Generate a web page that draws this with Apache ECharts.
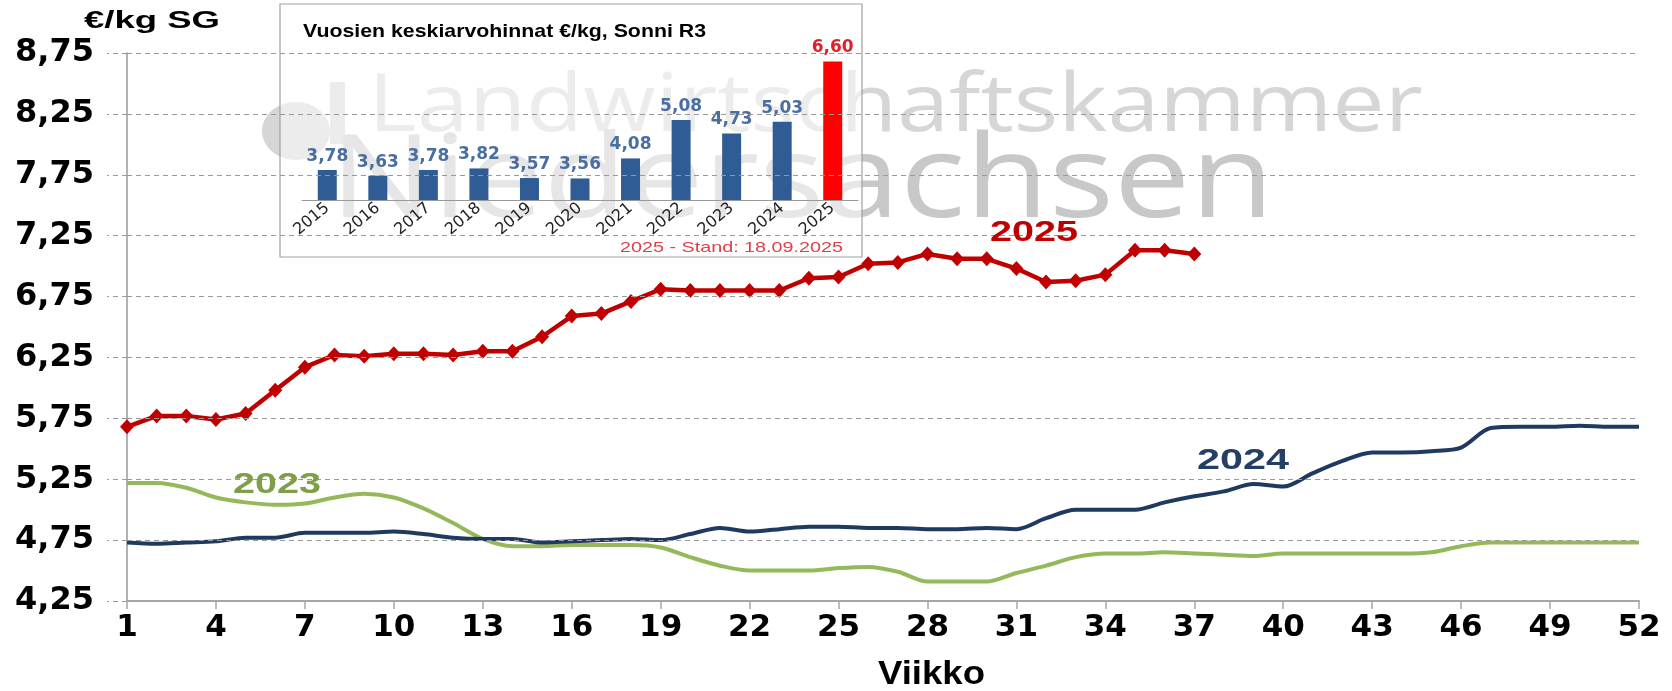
<!DOCTYPE html>
<html>
<head>
<meta charset="utf-8">
<script src="https://cdn.jsdelivr.net/npm/echarts@6/dist/echarts.min.js"></script>
<style>
  html, body { margin: 0; padding: 0; background: #fff; }
  #chart { width: 1672px; height: 691px; }
</style>
</head>
<body>
<div id="chart"></div>
<script>
// weeks 1..52
const weeks = Array.from({ length: 52 }, (_, i) => String(i + 1));
const yTicks = [4.25, 4.75, 5.25, 5.75, 6.25, 6.75, 7.25, 7.75, 8.25, 8.75];

// €/kg SG, Sonni R3 weekly prices
const price2023 = [
  5.22, 5.22, 5.18, 5.10, 5.06, 5.04, 5.05, 5.10, 5.13, 5.10,
  5.01, 4.89, 4.76, 4.70, 4.70, 4.71, 4.71, 4.71, 4.69, 4.61,
  4.54, 4.50, 4.50, 4.50, 4.52, 4.53, 4.49, 4.41, 4.41, 4.41,
  4.48, 4.54, 4.61, 4.64, 4.64, 4.65, 4.64, 4.63, 4.62, 4.64,
  4.64, 4.64, 4.64, 4.64, 4.65, 4.70, 4.73, 4.73, 4.73, 4.73,
  4.73, 4.73
];
const price2024 = [
  4.73, 4.72, 4.73, 4.74, 4.77, 4.77, 4.81, 4.81, 4.81, 4.82,
  4.80, 4.77, 4.76, 4.76, 4.73, 4.74, 4.75, 4.76, 4.75, 4.80,
  4.85, 4.82, 4.84, 4.86, 4.86, 4.85, 4.85, 4.84, 4.84, 4.85,
  4.84, 4.93, 5.00, 5.00, 5.00, 5.06, 5.11, 5.15, 5.21, 5.19,
  5.30, 5.40, 5.47, 5.47, 5.48, 5.51, 5.67, 5.68, 5.68, 5.69,
  5.68, 5.68
];
const price2025 = [
  5.68, 5.77, 5.77, 5.74, 5.79, 5.98, 6.17, 6.27, 6.26, 6.28,
  6.28, 6.27, 6.30, 6.30, 6.42, 6.59, 6.61, 6.71, 6.81, 6.80,
  6.80, 6.80, 6.80, 6.90, 6.91, 7.02, 7.03, 7.10, 7.06, 7.06,
  6.98, 6.87, 6.88, 6.93, 7.13, 7.13, 7.10
];

// inset: yearly averages
const years = ['2015', '2016', '2017', '2018', '2019', '2020', '2021', '2022', '2023', '2024', '2025'];
const yearAvg = [3.78, 3.63, 3.78, 3.82, 3.57, 3.56, 4.08, 5.08, 4.73, 5.03, 6.60];

const comma = (v) => v.toFixed(2).replace('.', ',');

// the source image is stretched sideways, so texts get fitted to a width
const measureCtx = document.createElement('canvas').getContext('2d');
function fitText(text, font, left, cy, width, color, z) {
    measureCtx.font = font;
    const w = measureCtx.measureText(text).width;
    return {
        type: 'text', x: left, y: cy, scaleX: width / w, z: z, silent: true,
        style: { text: text, font: font, fill: color, textAlign: 'left', textVerticalAlign: 'middle' },
    };
}

const lastYear = yearAvg.length - 1;

const chart = echarts.init(document.getElementById('chart'));
chart.setOption({
    animation: false,
    grid: [
        { left: 127, right: 33, top: 53, bottom: 90 },
        { left: 302, width: 556, top: 46, height: 154 },
    ],
    xAxis: [
        {
            type: 'category', gridIndex: 0, data: weeks, boundaryGap: false,
            axisLine: { lineStyle: { color: '#a6a6a6', width: 2 } },
            axisTick: { interval: 2, length: 8, lineStyle: { color: '#a6a6a6', width: 1.5 } },
            axisLabel: {
                interval: 2, margin: 11, color: '#000',
                fontFamily: 'DejaVu Sans', fontWeight: 'bold', fontSize: 31,
            },
            splitLine: { show: false },
        },
        {
            type: 'category', gridIndex: 1, data: years,
            axisLine: { lineStyle: { color: '#999' } },
            axisTick: { length: 5, lineStyle: { color: '#999' } },
            axisLabel: { rotate: 40, margin: 6, color: '#222', fontFamily: 'DejaVu Sans', fontSize: 16 },
        },
    ],
    yAxis: [
        {
            type: 'value', gridIndex: 0, min: 4.25, max: 8.75, interval: 0.25,
            axisLine: { show: true, lineStyle: { color: '#999', width: 1.5 } },
            axisTick: { show: true, customValues: yTicks, length: 20, lineStyle: { color: '#999', type: [5, 4] } },
            axisLabel: {
                customValues: yTicks, margin: 33, color: '#000',
                fontFamily: 'DejaVu Sans', fontWeight: 'bold', fontSize: 32,
                formatter: (v) => (Math.round((v - 4.25) / 0.25) % 2 ? '' : comma(v)),
            },
            splitLine: { show: false },
        },
        { type: 'value', gridIndex: 1, min: 3, max: 7, show: false },
    ],
    graphic: [
        // watermark
        { type: 'ellipse', shape: { cx: 296, cy: 131, rx: 34, ry: 29 }, style: { fill: '#d6d6d6' }, z: -2, silent: true },
        { type: 'rect', shape: { x: 330, y: 82, width: 15, height: 62 }, style: { fill: '#d6d6d6' }, z: -2, silent: true },
        fitText('Landwirtschaftskammer', '81px "Open Sans"', 368, 108, 1055, '#d6d6d6', -2),
        fitText('Niedersachsen', '115px "Open Sans"', 330, 184, 944, '#c8c8c8', -2),
        // inset frame (half see-through) and texts
        { type: 'rect', shape: { x: 280, y: 4, width: 582, height: 253 }, style: { fill: 'rgba(255,255,255,0.55)', stroke: '#a0a0a0', lineWidth: 1.2 }, z: -1, silent: true },
        fitText('Vuosien keskiarvohinnat €/kg, Sonni R3', 'bold 19px "Liberation Sans"', 303, 32, 403, '#000', 10),
        fitText('2025 - Stand: 18.09.2025', '15px "Liberation Sans"', 620, 248, 223, '#e0404a', 10),
        // main chart texts
        fitText('€/kg SG', 'bold 24px "Liberation Sans"', 84, 21, 136, '#000', 10),
        fitText('Viikko', 'bold 33px "Liberation Sans"', 878, 675, 107, '#000', 10),
        fitText('2025', 'bold 29px "Liberation Sans"', 990, 233, 88, '#c00000', 10),
        fitText('2024', 'bold 29px "Liberation Sans"', 1197, 461, 92, '#243f63', 10),
        fitText('2023', 'bold 29px "Liberation Sans"', 233, 485, 88, '#7e9e48', 10),
    ],
    series: [
        {
            // dashed grid lines
            type: 'line', xAxisIndex: 0, yAxisIndex: 0, data: [], z: 1, silent: true,
            markLine: {
                silent: true, symbol: ['none', 'none'], label: { show: false },
                lineStyle: { color: '#999', type: [5, 4], width: 1 },
                emphasis: { disabled: true },
                data: yTicks.slice(1).map((v) => ({ yAxis: v })),
            },
        },
        {
            name: '2023', type: 'line', xAxisIndex: 0, yAxisIndex: 0, data: price2023,
            smooth: 0.3, showSymbol: false, lineStyle: { color: '#95b95a', width: 4 }, itemStyle: { color: '#95b95a' },
        },
        {
            name: '2024', type: 'line', xAxisIndex: 0, yAxisIndex: 0, data: price2024,
            smooth: 0.3, showSymbol: false, lineStyle: { color: '#1f3a60', width: 4 }, itemStyle: { color: '#1f3a60' },
        },
        {
            name: '2025', type: 'line', xAxisIndex: 0, yAxisIndex: 0, data: price2025,
            symbol: 'diamond', symbolSize: [14, 15], showAllSymbol: true,
            lineStyle: { color: '#c00000', width: 4.5 }, itemStyle: { color: '#c00000' },
        },
        {
            type: 'bar', xAxisIndex: 1, yAxisIndex: 1, barWidth: 19,
            data: yearAvg.map((v, i) => ({
                value: v,
                itemStyle: { color: i === lastYear ? '#ff0000' : '#2f5c94' },
                label: { color: i === lastYear ? '#e41e26' : '#4a6e9f' },
            })),
            label: {
                show: true, position: 'top', distance: 5,
                fontFamily: 'DejaVu Sans', fontWeight: 'bold', fontSize: 17,
                formatter: (p) => comma(p.value),
            },
        },
    ],
});
</script>
</body>
</html>
